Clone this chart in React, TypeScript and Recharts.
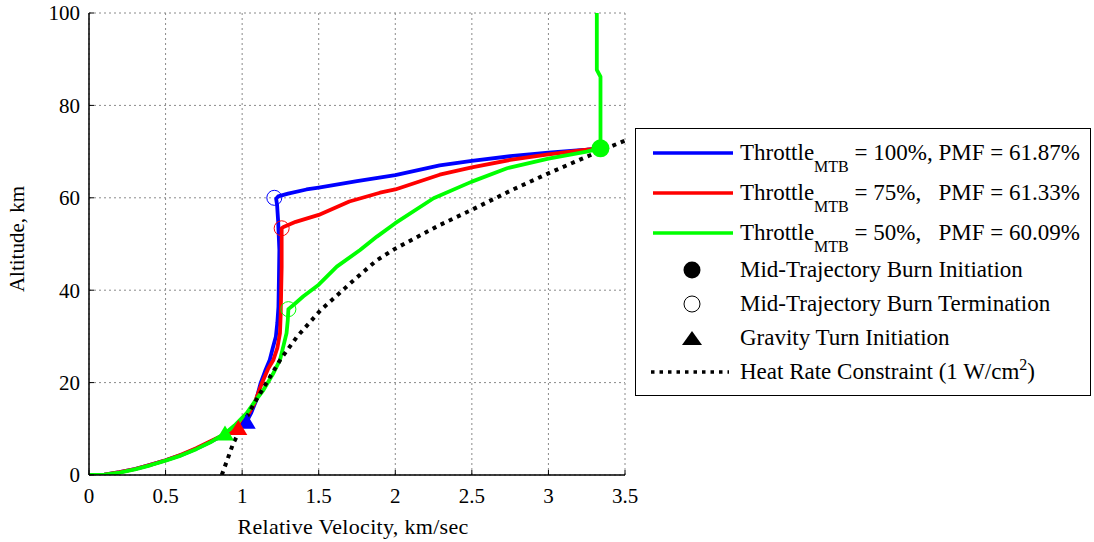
import {
  CartesianGrid,
  ComposedChart,
  Legend,
  Line,
  Scatter,
  XAxis,
  YAxis,
} from 'recharts';

const FONT = '"Liberation Serif", "DejaVu Serif", serif';
const BLUE = '#0000ff';
const RED = '#ff0000';
const GREEN = '#00ff00';

const xTicks = [0, 0.5, 1, 1.5, 2, 2.5, 3, 3.5];
const yTicks = [0, 20, 40, 60, 80, 100];

// velocity (km/s) vs altitude (km) for each throttle setting
const track100 = [
  { x: 0, y: 0 }, { x: 0.1, y: 0.1 }, { x: 0.2, y: 0.6 }, { x: 0.3, y: 1.3 }, { x: 0.4, y: 2.2 },
  { x: 0.5, y: 3.2 }, { x: 0.6, y: 4.3 }, { x: 0.7, y: 5.7 }, { x: 0.8, y: 7.3 }, { x: 0.9, y: 9.0 },
  { x: 0.97, y: 10.3 }, { x: 1.03, y: 11.6 }, { x: 1.06, y: 13.5 }, { x: 1.09, y: 16 },
  { x: 1.12, y: 19.8 }, { x: 1.15, y: 22.5 }, { x: 1.18, y: 24.9 }, { x: 1.2, y: 27.5 },
  { x: 1.22, y: 29.9 }, { x: 1.23, y: 33 }, { x: 1.237, y: 36.4 }, { x: 1.24, y: 42 },
  { x: 1.243, y: 48.7 }, { x: 1.235, y: 55 }, { x: 1.228, y: 58.5 }, { x: 1.222, y: 59.8 },
  { x: 1.235, y: 60.3 }, { x: 1.3, y: 60.9 }, { x: 1.42, y: 61.8 }, { x: 1.5, y: 62.2 },
  { x: 1.75, y: 63.6 }, { x: 2.0, y: 64.9 }, { x: 2.29, y: 67.0 }, { x: 2.5, y: 68.0 },
  { x: 2.75, y: 69.0 }, { x: 3.0, y: 69.8 }, { x: 3.25, y: 70.4 }, { x: 3.34, y: 70.7 },
];

const track75 = [
  { x: 0, y: 0 }, { x: 0.1, y: 0.1 }, { x: 0.2, y: 0.6 }, { x: 0.3, y: 1.3 }, { x: 0.4, y: 2.2 },
  { x: 0.5, y: 3.2 }, { x: 0.6, y: 4.4 }, { x: 0.7, y: 5.8 }, { x: 0.8, y: 7.4 }, { x: 0.9, y: 9.0 },
  { x: 0.975, y: 10.2 }, { x: 1.03, y: 12.5 }, { x: 1.08, y: 15.5 }, { x: 1.128, y: 19.8 },
  { x: 1.17, y: 23 }, { x: 1.204, y: 24.9 }, { x: 1.23, y: 27.5 }, { x: 1.247, y: 30.7 },
  { x: 1.252, y: 35 }, { x: 1.255, y: 40 }, { x: 1.258, y: 45 }, { x: 1.258, y: 50 },
  { x: 1.258, y: 53.4 }, { x: 1.27, y: 53.7 }, { x: 1.35, y: 54.8 }, { x: 1.5, y: 56.3 },
  { x: 1.7, y: 59.2 }, { x: 1.9, y: 61.1 }, { x: 2.0, y: 61.8 }, { x: 2.29, y: 65.0 },
  { x: 2.42, y: 66.0 }, { x: 2.5, y: 66.6 }, { x: 2.75, y: 68.2 }, { x: 3.0, y: 69.4 },
  { x: 3.25, y: 70.4 }, { x: 3.34, y: 70.7 },
];

const track50 = [
  { x: 0, y: 0 }, { x: 0.1, y: 0.1 }, { x: 0.2, y: 0.5 }, { x: 0.3, y: 1.2 }, { x: 0.4, y: 2.1 },
  { x: 0.5, y: 3.1 }, { x: 0.6, y: 4.2 }, { x: 0.7, y: 5.6 }, { x: 0.8, y: 7.2 }, { x: 0.888, y: 9.0 },
  { x: 0.95, y: 10.7 }, { x: 1.03, y: 13.4 }, { x: 1.08, y: 15.8 }, { x: 1.139, y: 18.4 },
  { x: 1.2, y: 21.8 }, { x: 1.247, y: 24.9 }, { x: 1.27, y: 28 }, { x: 1.29, y: 30.7 },
  { x: 1.298, y: 33.5 }, { x: 1.302, y: 35.9 }, { x: 1.335, y: 36.8 }, { x: 1.4, y: 38.7 },
  { x: 1.5, y: 41.2 }, { x: 1.618, y: 45.1 }, { x: 1.77, y: 48.7 }, { x: 1.88, y: 51.6 },
  { x: 2.0, y: 54.5 }, { x: 2.25, y: 59.9 }, { x: 2.5, y: 63.5 }, { x: 2.73, y: 66.4 },
  { x: 3.0, y: 68.5 }, { x: 3.25, y: 70.0 }, { x: 3.34, y: 70.7 }, { x: 3.34, y: 86.2 },
  { x: 3.316, y: 87.7 }, { x: 3.316, y: 100 },
];

const heatRate = [
  { x: 0.867, y: 0 }, { x: 0.9, y: 3 }, { x: 0.94, y: 6.7 }, { x: 0.99, y: 10 }, { x: 1.07, y: 15 },
  { x: 1.16, y: 20 }, { x: 1.25, y: 25 }, { x: 1.36, y: 30 }, { x: 1.51, y: 35.6 },
  { x: 1.73, y: 42.2 }, { x: 1.88, y: 46.5 }, { x: 2.0, y: 49 }, { x: 2.29, y: 54.1 },
  { x: 2.5, y: 57.4 }, { x: 2.75, y: 61.5 }, { x: 3.0, y: 65.3 }, { x: 3.25, y: 68.9 },
  { x: 3.5, y: 72.4 },
];

// event markers
const turn100 = [{ x: 1.03, y: 11.5 }];
const turn75 = [{ x: 0.975, y: 10.2 }];
const turn50 = [{ x: 0.888, y: 9.0 }];
const burnEnd100 = [{ x: 1.21, y: 60 }];
const burnEnd75 = [{ x: 1.258, y: 53.4 }];
const burnEnd50 = [{ x: 1.302, y: 35.9 }];
const burnStart = [{ x: 3.34, y: 70.7 }];

const triangle = (color: string) => (p: any) => (
  <polygon
    points={`${p.cx},${p.cy - 8} ${p.cx - 9},${p.cy + 7} ${p.cx + 9},${p.cy + 7}`}
    fill={color}
  />
);
const ring = (color: string) => (p: any) => (
  <circle cx={p.cx} cy={p.cy} r={7.5} fill="none" stroke={color} strokeWidth={1} />
);
const dotFilled = (color: string) => (p: any) => (
  <circle cx={p.cx} cy={p.cy} r={9} fill={color} />
);

const legendRows = [
  { color: BLUE, pct: '100%, ', pmf: '61.87%' },
  { color: RED, pct: '75%,   ', pmf: '61.33%' },
  { color: GREEN, pct: '50%,   ', pmf: '60.09%' },
];

function LegendBox() {
  const txt = {
    fontFamily: FONT,
    fontSize: 23,
    color: '#000',
    whiteSpace: 'pre' as const,
  };
  const row = (h: number, children: any, key: string) => (
    <div key={key} style={{ height: h, display: 'flex', alignItems: 'center' }}>{children}</div>
  );
  const icon = (el: any) => (
    <svg width={86} height={30} style={{ marginLeft: 12, marginRight: 6, flex: 'none' }}>{el}</svg>
  );
  return (
    <div
      style={{
        width: 456,
        height: 268,
        boxSizing: 'border-box',
        border: '1px solid #000',
        background: '#fff',
        paddingTop: 4,
      }}
    >
      {legendRows.map((r, i) =>
        row(
          40,
          <>
            {icon(<line x1={5} x2={85} y1={15} y2={15} stroke={r.color} strokeWidth={3.5} />)}
            <span style={txt}>
              Throttle
              <span style={{ fontSize: 16, position: 'relative', top: 12 }}>MTB</span>
              {` = ${r.pct}PMF = ${r.pmf}`}
            </span>
          </>,
          'r' + i
        )
      )}
      {row(
        34,
        <>
          {icon(<circle cx={44} cy={15} r={8.5} fill="#000" />)}
          <span style={txt}>Mid-Trajectory Burn Initiation</span>
        </>,
        'a'
      )}
      {row(
        34,
        <>
          {icon(<circle cx={44} cy={15} r={8} fill="none" stroke="#000" strokeWidth={1} />)}
          <span style={txt}>Mid-Trajectory Burn Termination</span>
        </>,
        'b'
      )}
      {row(
        34,
        <>
          {icon(<polygon points="44,8 34,22 54,22" fill="#000" />)}
          <span style={txt}>Gravity Turn Initiation</span>
        </>,
        'c'
      )}
      {row(
        34,
        <>
          {icon(
            <line x1={3} x2={81} y1={15} y2={15} stroke="#000" strokeWidth={3.5} strokeDasharray="3.5 5" />
          )}
          <span style={txt}>
            Heat Rate Constraint (1 W/cm
            <span style={{ fontSize: 16, position: 'relative', top: -9 }}>2</span>)
          </span>
        </>,
        'd'
      )}
    </div>
  );
}

export default function App() {
  const tickStyle = { fill: '#000', fontSize: 21, fontFamily: FONT };
  const axisLine = { stroke: '#000', strokeWidth: 1.5 };
  return (
    <div style={{ position: 'absolute', left: 0, top: 0, width: 1094, height: 542, background: '#fff', fontFamily: FONT }}>
      <ComposedChart width={1094} height={542} margin={{ top: 13, right: 469, bottom: 0, left: 0 }}>
        <CartesianGrid stroke="#8a8a8a" strokeDasharray="2 3" />
        <XAxis
          dataKey="x"
          type="number"
          domain={[0, 3.5]}
          ticks={xTicks}
          interval={0}
          allowDataOverflow
          height={67}
          axisLine={axisLine}
          tickLine={{ stroke: '#000' }}
          tickSize={-5}
          tickMargin={18}
          tick={tickStyle}
          label={{
            value: 'Relative Velocity, km/sec',
            position: 'insideBottom',
            offset: 8,
            dx: -4,
            style: { fill: '#000', fontSize: 22, letterSpacing: 0.3, fontFamily: FONT },
          }}
        />
        <XAxis
          xAxisId="top"
          orientation="top"
          type="number"
          domain={[0, 3.5]}
          ticks={xTicks}
          interval={0}
          height={0}
          axisLine={{ stroke: '#000', strokeWidth: 1.2 }}
          tickLine={{ stroke: '#000' }}
          tickSize={-5}
          tick={false}
        />
        <YAxis
          dataKey="y"
          type="number"
          domain={[0, 100]}
          ticks={yTicks}
          interval={0}
          allowDataOverflow
          width={89}
          axisLine={axisLine}
          tickLine={{ stroke: '#000' }}
          tickSize={-5}
          tickMargin={14}
          tick={tickStyle}
          label={{
            content: (p: any) => {
              const vb = p.viewBox || { x: 0, y: 13, height: 462 };
              const cx = vb.x + 17;
              const cy = vb.y + vb.height / 2 - 5;
              return (
                <text
                  x={cx}
                  y={cy}
                  transform={`rotate(-90 ${cx} ${cy})`}
                  textAnchor="middle"
                  dominantBaseline="central"
                  fill="#000"
                  fontSize={21}
                  fontFamily={FONT}
                >
                  Altitude, km
                </text>
              );
            },
          }}
        />
        <YAxis
          yAxisId="right"
          orientation="right"
          type="number"
          domain={[0, 100]}
          ticks={yTicks}
          interval={0}
          width={0}
          axisLine={{ stroke: '#000', strokeWidth: 1.5 }}
          tickLine={{ stroke: '#000' }}
          tickSize={-5}
          tick={false}
        />
        <Line data={track100} dataKey="y" type="linear" stroke={BLUE} strokeWidth={3.8} strokeLinejoin="round" dot={false} isAnimationActive={false} />
        <Line data={track75} dataKey="y" type="linear" stroke={RED} strokeWidth={3.8} strokeLinejoin="round" dot={false} isAnimationActive={false} />
        <Line data={track50} dataKey="y" type="linear" stroke={GREEN} strokeWidth={3.8} strokeLinejoin="round" dot={false} isAnimationActive={false} />
        <Line data={heatRate} dataKey="y" type="linear" stroke="#000" strokeWidth={4} strokeDasharray="4 5" dot={false} isAnimationActive={false} />
        <Scatter data={turn100} dataKey="y" shape={triangle(BLUE)} isAnimationActive={false} />
        <Scatter data={turn75} dataKey="y" shape={triangle(RED)} isAnimationActive={false} />
        <Scatter data={turn50} dataKey="y" shape={triangle(GREEN)} isAnimationActive={false} />
        <Scatter data={burnEnd100} dataKey="y" shape={ring(BLUE)} isAnimationActive={false} />
        <Scatter data={burnEnd75} dataKey="y" shape={ring(RED)} isAnimationActive={false} />
        <Scatter data={burnEnd50} dataKey="y" shape={ring(GREEN)} isAnimationActive={false} />
        <Scatter data={burnStart} dataKey="y" shape={dotFilled(GREEN)} isAnimationActive={false} />
        <Legend
          layout="horizontal"
          align="center"
          verticalAlign="middle"
          wrapperStyle={{ left: 635, top: 128, width: 456, height: 268 }}
          content={() => <LegendBox />}
        />
      </ComposedChart>
    </div>
  );
}
